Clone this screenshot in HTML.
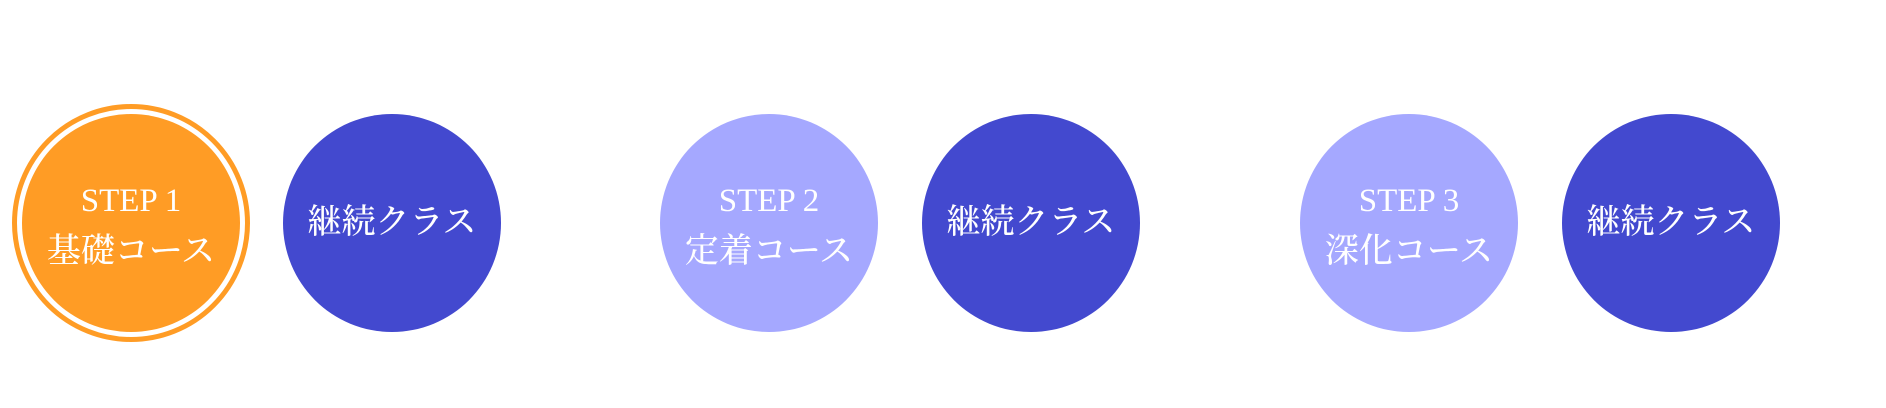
<!DOCTYPE html>
<html><head><meta charset="utf-8"><style>
html,body{margin:0;padding:0;background:#fff;width:1886px;height:408px;overflow:hidden;position:relative}
.c{position:absolute;box-sizing:border-box;width:218px;height:218px;border-radius:50%;top:114px;display:flex;flex-direction:column;align-items:center;justify-content:center;color:#fff;font-family:"Liberation Serif","Noto Serif CJK JP",serif;text-align:center;font-weight:500}
.o{background:#FF9C25}
.b{background:#4349CF}
.l{background:#A5A8FF}
.s{font-size:33px;line-height:50px}
.j{font-size:34px;line-height:52px;letter-spacing:0px}
.t{padding-top:8px}
.ring{position:absolute;left:12px;top:104px;width:228px;height:228px;border:5px solid #FF9C25;border-radius:50%}
</style></head><body>
<div class="ring"></div>
<div class="c o t" style="left:22px"><div class="s">STEP 1</div><div class="j">基礎コース</div></div>
<div class="c b" style="left:283px"><div class="j">継続クラス</div></div>
<div class="c l t" style="left:660px"><div class="s">STEP 2</div><div class="j">定着コース</div></div>
<div class="c b" style="left:922px"><div class="j">継続クラス</div></div>
<div class="c l t" style="left:1300px"><div class="s">STEP 3</div><div class="j">深化コース</div></div>
<div class="c b" style="left:1562px"><div class="j">継続クラス</div></div>
</body></html>
